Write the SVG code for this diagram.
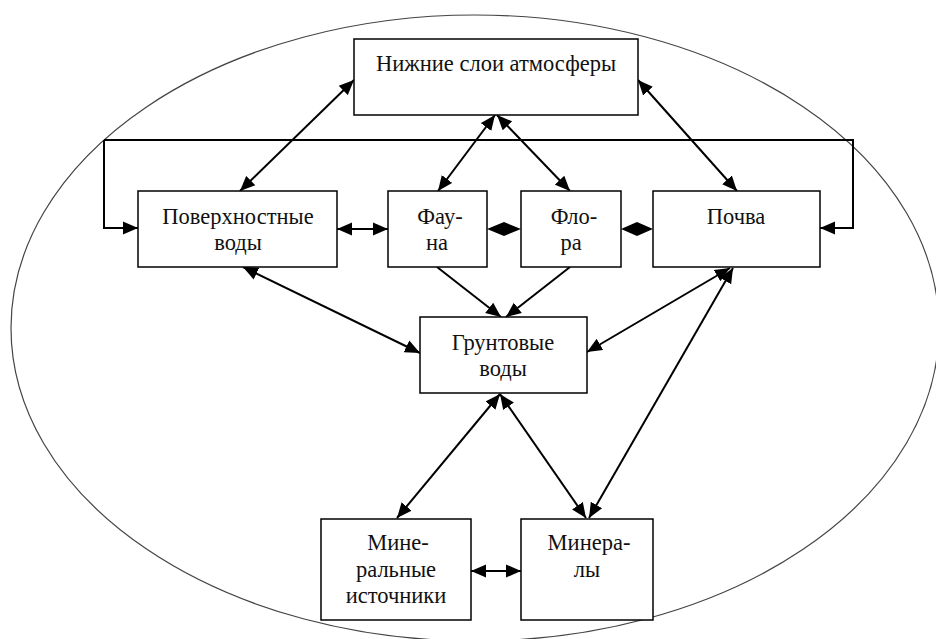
<svg xmlns="http://www.w3.org/2000/svg" width="936" height="639" viewBox="0 0 936 639">
<style>
.box{fill:#fff;stroke:#000;stroke-width:1.5}
.lbl{font-family:'Liberation Serif','Times New Roman',serif;font-size:22.5px;fill:#111;text-anchor:middle}
.ln{fill:none;stroke:#000;stroke-width:2}
.ar{marker-end:url(#ah)}
.dbl{marker-start:url(#ah);marker-end:url(#ah)}
.dia{fill:#000}
</style>
<defs>
<marker id="ah" markerUnits="userSpaceOnUse" markerWidth="16" markerHeight="14" refX="15" refY="6.5" orient="auto-start-reverse" viewBox="0 0 16 13">
<path d="M0,0 L15,6.5 L0,13 z" fill="#000"/>
</marker>
</defs>
<rect width="936" height="639" fill="#fff"/>
<ellipse cx="475" cy="328" rx="464" ry="313" fill="none" stroke="#444" stroke-width="1.2"/>
<g id="connectors">
<polyline class="ln ar" points="104,140 104,228 138,228"/>
<polyline class="ln ar" points="104,140 853,140 853,228 820,228"/>
<line class="ln dbl" x1="240" y1="191" x2="354" y2="80"/>
<line class="ln dbl" x1="438" y1="191" x2="495" y2="115"/>
<line class="ln dbl" x1="570" y1="191" x2="497" y2="115"/>
<line class="ln dbl" x1="638" y1="80" x2="737" y2="191"/>
<line class="ln dbl" x1="337" y1="229" x2="388" y2="229"/>
<polygon class="dia" points="487,229 504,222 521,229 504,236"/>
<polygon class="dia" points="621,229 637,222 653,229 637,236"/>
<line class="ln dbl" x1="243" y1="267" x2="420" y2="353"/>
<line class="ln ar" x1="437" y1="267" x2="501" y2="317"/>
<line class="ln ar" x1="570" y1="267" x2="506" y2="317"/>
<line class="ln dbl" x1="587" y1="352" x2="730" y2="268"/>
<line class="ln dbl" x1="589" y1="518" x2="733" y2="268"/>
<line class="ln dbl" x1="500" y1="394" x2="397" y2="518"/>
<line class="ln dbl" x1="500" y1="394" x2="586" y2="518"/>
<line class="ln dbl" x1="471" y1="571" x2="521" y2="571"/>
</g>
<g id="atmosphere">
<rect class="box" x="354" y="39" width="284" height="76"/>
<text class="lbl" x="496" y="71">Нижние слои атмосферы</text>
</g>
<g id="surface-water">
<rect class="box" x="138" y="191" width="199" height="76"/>
<text class="lbl" x="238" y="224">Поверхностные</text>
<text class="lbl" x="238" y="250">воды</text>
</g>
<g id="fauna">
<rect class="box" x="388" y="191" width="99" height="76"/>
<text class="lbl" x="440" y="224">Фау-</text>
<text class="lbl" x="437" y="250">на</text>
</g>
<g id="flora">
<rect class="box" x="521" y="191" width="100" height="76"/>
<text class="lbl" x="574" y="224">Фло-</text>
<text class="lbl" x="571" y="250">ра</text>
</g>
<g id="soil">
<rect class="box" x="653" y="191" width="167" height="76"/>
<text class="lbl" x="736" y="224">Почва</text>
</g>
<g id="groundwater">
<rect class="box" x="420" y="317" width="167" height="76"/>
<text class="lbl" x="503" y="350">Грунтовые</text>
<text class="lbl" x="503" y="376">воды</text>
</g>
<g id="mineral-springs">
<rect class="box" x="321" y="519" width="150" height="101"/>
<text class="lbl" x="398" y="550">Мине-</text>
<text class="lbl" x="396" y="577">ральные</text>
<text class="lbl" x="396" y="603">источники</text>
</g>
<g id="minerals">
<rect class="box" x="521" y="519" width="132" height="101"/>
<text class="lbl" x="589" y="550">Минера-</text>
<text class="lbl" x="587" y="577">лы</text>
</g>
</svg>
